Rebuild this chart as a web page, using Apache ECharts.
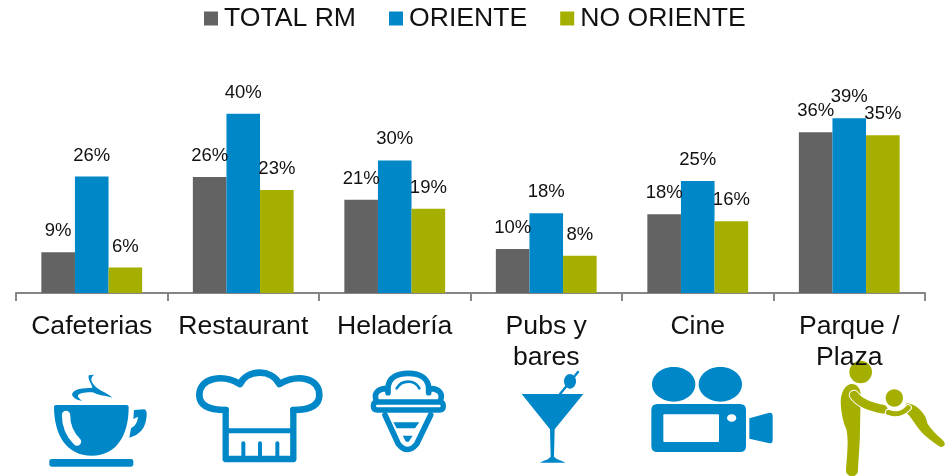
<!DOCTYPE html>
<html>
<head>
<meta charset="utf-8">
<style>
  html, body { margin: 0; padding: 0; background: #fff; }
  #chart { width: 949px; height: 476px; }
</style>
<script src="https://cdn.jsdelivr.net/npm/echarts@6/dist/echarts.min.js"></script>
</head>
<body>
<div id="chart"></div>
<script>
var categories = ['Cafeterias', 'Restaurant', 'Heladería', 'Pubs y\nbares', 'Cine', 'Parque /\nPlaza'];
var totalRm = [9.1, 25.9, 20.8, 9.8, 17.6, 35.9];
var oriente = [26, 40, 29.6, 17.8, 25, 39];
var noOriente = [5.7, 23, 18.8, 8.3, 16, 35.2];

var GRAY = '#636363', BLUE = '#0087C8', GREEN = '#A5AF00';
var FONT = '"Liberation Sans", Arial, sans-serif';

function barSeries(name, data, color) {
  return {
    type: 'bar',
    name: name,
    data: data,
    barWidth: 33.6,
    barGap: 0,
    itemStyle: { color: color },
    label: {
      show: true,
      position: 'top',
      distance: 11.5,
      formatter: function (p) { return Math.round(p.value) + '%'; },
      color: '#111',
      fontSize: 18.5,
      fontFamily: FONT
    }
  };
}

// el componente graphic no acepta type:'path', se registra una forma por icono
var shapeCount = 0;
function pathType(d) {
  var name = 'iconPath' + (shapeCount++);
  echarts.graphic.registerShape(name, echarts.graphic.extendPath(d));
  return name;
}
// iconos dibujados en coordenadas del recorte x3
function fill(d, color) {
  return { type: pathType(d), style: { fill: color } };
}
function line(d, color, w) {
  return { type: pathType(d), style: { fill: 'none', stroke: color, lineWidth: w, lineCap: 'round', lineJoin: 'round' } };
}
function dot(cx, cy, rx, ry, color) {
  return { type: 'ellipse', shape: { cx: cx, cy: cy, rx: rx, ry: ry }, style: { fill: color } };
}

var iconsLeft = [
  // taza
  fill('M162,140 Q162,135 168,135 L380,135 Q386,135 386,141 C386,225 350,287 275,287 C200,287 162,225 162,140 Z', BLUE),
  line('M198,165 C198,195 208,222 231,245', '#fff', 25),
  fill('M148,304 Q148,297 155,297 L393,297 Q400,297 400,304 L400,313 Q400,320 393,320 L155,320 Q148,320 148,313 Z', BLUE),
  fill('M402,150 L432,148 Q441,150 440,165 Q438,220 388,233 L393,205 Q412,195 414,170 L400,177 Z', BLUE),
  fill('M266,46 L283,44 C270,52 272,65 285,78 C295,90 320,98 338,113 C315,105 290,108 275,92 C285,80 262,65 266,46 Z', BLUE),
  fill('M278,83 C250,85 220,85 216,103 C218,115 232,120 246,123 C232,112 228,104 245,100 C260,96 275,96 285,98 Z', BLUE),
  // gorro
  line('M677,150 C625,150 598,135 598,105 C598,55 665,40 720,72 C740,28 815,25 838,72 C895,40 958,55 958,105 C958,135 930,150 880,150', BLUE, 20),
  line('M677,150 L677,297 L880,297 L880,150', BLUE, 19),
  line('M677,212 L880,212', BLUE, 15),
  line('M730,250 L730,292', BLUE, 12),
  line('M780,250 L780,292', BLUE, 12),
  line('M832,250 L832,292', BLUE, 12),
  // helado
  line('M1132,126 L1318,126 Q1330,126 1330,138 Q1330,150 1318,150 L1132,150 Q1120,150 1120,138 Q1120,126 1132,126 Z', BLUE, 16),
  line('M1128,120 C1120,95 1140,85 1164,85 L1164,98 M1164,85 C1165,50 1195,40 1225,40 C1260,40 1285,55 1286,85 L1286,98 M1286,85 C1310,85 1330,95 1322,120', BLUE, 17),
  line('M1190,85 C1205,58 1245,58 1258,85', BLUE, 8),
  line('M1155,165 L1195,252 Q1222,285 1250,252 L1292,165', BLUE, 17),
  fill('M1180,187 L1258,187 L1245,205 L1190,205 Z', BLUE),
  fill('M1208,227 L1238,227 L1226,245 L1218,245 Z', BLUE)
];

var iconsRight = [
  // copa
  fill('M125,162 L310,162 L224,268 L222,350 C228,357 245,362 257,368 L180,368 C190,362 208,357 212,350 L210,268 Z', BLUE),
  line('M240,162 L294,96', BLUE, 7),
  dot(270, 124, 18, 22, BLUE),
  // camara
  dot(581, 133, 65, 52, BLUE),
  dot(721, 133, 65, 52, BLUE),
  fill('M532,192 L780,192 Q798,192 798,210 L798,318 Q798,336 780,336 L532,336 Q514,336 514,318 L514,210 Q514,192 532,192 Z', BLUE),
  fill('M553,223 L714,223 Q717,223 717,226 L717,303 Q717,306 714,306 L553,306 Q550,306 550,303 L550,226 Q550,223 553,223 Z', '#fff'),
  dot(755, 234, 14, 11, '#fff'),
  fill('M808,235 L868,218 Q878,217 878,228 L878,300 Q878,311 868,310 L808,296 Z', BLUE),
  // adulto y niño
  fill('M1112,132 C1130,130 1142,145 1142,165 L1140,270 C1140,310 1135,360 1134,392 A18,18 0 0 1 1098,390 C1100,350 1108,300 1098,265 C1085,240 1078,180 1085,165 C1090,145 1100,135 1112,132 Z', GREEN),
  dot(1142, 96, 34, 34, GREEN),
  line('M1122,165 C1140,190 1170,200 1210,208', '#fff', 32),
  line('M1122,165 C1140,190 1170,200 1210,208', GREEN, 26),
  fill('M1280,190 C1310,190 1340,225 1342,250 C1360,280 1385,295 1392,305 A10,10 0 0 1 1380,320 C1355,305 1330,285 1315,265 C1300,245 1290,225 1270,210 Z', GREEN),
  dot(1243, 174, 26, 26, GREEN),
  line('M1225,217 C1250,226 1268,222 1285,203', '#fff', 21),
  line('M1225,217 C1250,226 1268,222 1285,203', GREEN, 15)
];

var myChart = echarts.init(document.getElementById('chart'), null, { renderer: 'canvas' });
myChart.setOption({
  animation: false,
  textStyle: { fontFamily: FONT },
  legend: {
    left: 199,
    top: 0,
    icon: 'rect',
    itemWidth: 14,
    itemHeight: 14,
    itemGap: 33,
    textStyle: { fontSize: 26.6, color: '#111', fontFamily: FONT, padding: [0, 0, 0, 1] }
  },
  grid: { left: 16, right: 24, top: 69, height: 224 },
  xAxis: {
    type: 'category',
    data: categories,
    axisLine: { lineStyle: { color: '#868686', width: 2 } },
    axisTick: { show: true, length: 8, lineStyle: { color: '#868686', width: 2 } },
    axisLabel: { interval: 0, margin: 18, fontSize: 26.6, lineHeight: 31, color: '#111', fontFamily: FONT }
  },
  yAxis: { type: 'value', min: 0, max: 50, show: false },
  series: [
    barSeries('TOTAL RM', totalRm, GRAY),
    barSeries('ORIENTE', oriente, BLUE),
    barSeries('NO ORIENTE', noOriente, GREEN)
  ],
  graphic: [
    { type: 'group', x: 0, y: 360, scaleX: 1 / 3, scaleY: 1 / 3, z: 20, children: iconsLeft },
    { type: 'group', x: 480, y: 340, scaleX: 1 / 3, scaleY: 1 / 3, z: 20, children: iconsRight }
  ]
});
</script>
</body>
</html>
